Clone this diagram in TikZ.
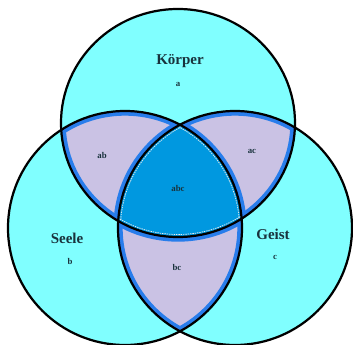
\documentclass[tikz,border=0pt]{standalone}
\usepackage{fontspec}
\setmainfont{Liberation Serif}
\usepackage{tikz}
\usetikzlibrary{positioning}
\definecolor{vcyan}{RGB}{128,255,255}
\definecolor{vlav}{RGB}{202,194,228}
\definecolor{vcore}{RGB}{0,152,224}
\definecolor{vedge}{RGB}{40,125,235}
\definecolor{vtext}{RGB}{25,50,60}
\tikzset{
  setname/.style={font=\fontsize{12.8}{14}\selectfont\bfseries, text=vtext, inner sep=0pt},
  setlabel/.style={font=\fontsize{7.5}{9}\selectfont\bfseries, text=vtext, inner sep=0pt},
  pairedge/.style={draw=vedge, line width=8pt},
  coreedge/.style={draw=white!85!gray, dashed, dash pattern=on 1.2pt off 0.8pt, line width=0.6pt},
  rim/.style={draw=black, line width=1.9pt},
}

\begin{document}
\begin{tikzpicture}[x=0.03cm,y=-0.03cm]
  \useasboundingbox (0,0) rectangle (353,345);
  \coordinate (A) at (178,123);
  \coordinate (B) at (125,228);
  \coordinate (C) at (235,228);

  % Kreise
  \fill[vcyan] (A) ellipse (117 and 114);
  \fill[vcyan] (B) circle (117);
  \fill[vcyan] (C) circle (117);

  % ab
  \begin{scope}
    \clip (A) ellipse (117 and 114);
    \clip (B) circle (117);
    \fill[vlav] (B) circle (117);
    \draw[pairedge] (A) ellipse (117 and 114);
    \draw[pairedge] (B) circle (117);
    \draw[pairedge] (C) circle (117);
  \end{scope}
  % ac
  \begin{scope}
    \clip (A) ellipse (117 and 114);
    \clip (C) circle (117);
    \fill[vlav] (C) circle (117);
    \draw[pairedge] (A) ellipse (117 and 114);
    \draw[pairedge] (B) circle (117);
    \draw[pairedge] (C) circle (117);
  \end{scope}
  % bc
  \begin{scope}
    \clip (B) circle (117);
    \clip (C) circle (117);
    \fill[vlav] (C) circle (117);
    \draw[pairedge] (A) ellipse (117 and 114);
    \draw[pairedge] (B) circle (117);
    \draw[pairedge] (C) circle (117);
  \end{scope}

  % abc
  \begin{scope}
    \clip (A) ellipse (117 and 114);
    \clip (B) circle (117);
    \clip (C) circle (117);
    \fill[vcore] (A) ellipse (117 and 114);
    \draw[coreedge] (A) ellipse (114.5 and 111.5);
    \draw[coreedge] (B) circle (114.5);
    \draw[coreedge] (C) circle (114.5);
  \end{scope}

  % Raender
  \draw[rim] (A) ellipse (117 and 114);
  \draw[rim] (B) circle (117);
  \draw[rim] (C) circle (117);

  % Beschriftung
  \node[setname] (koerper) at (180,61) {Körper};
  \node[setlabel] (la) at (178,84) {a};
  \node[setname] (seele) at (67,238) {Seele};
  \node[setlabel] (lb) at (70,261) {b};
  \node[setname] (geist) at (273,234) {Geist};
  \node[setlabel] (lc) at (275,257) {c};
  \node[setlabel] (lab) at (102,155) {ab};
  \node[setlabel] (lac) at (252,151) {ac};
  \node[setlabel] (lbc) at (177,267) {bc};
  \node[setlabel] (labc) at (178,188) {abc};
\end{tikzpicture}
\end{document}
